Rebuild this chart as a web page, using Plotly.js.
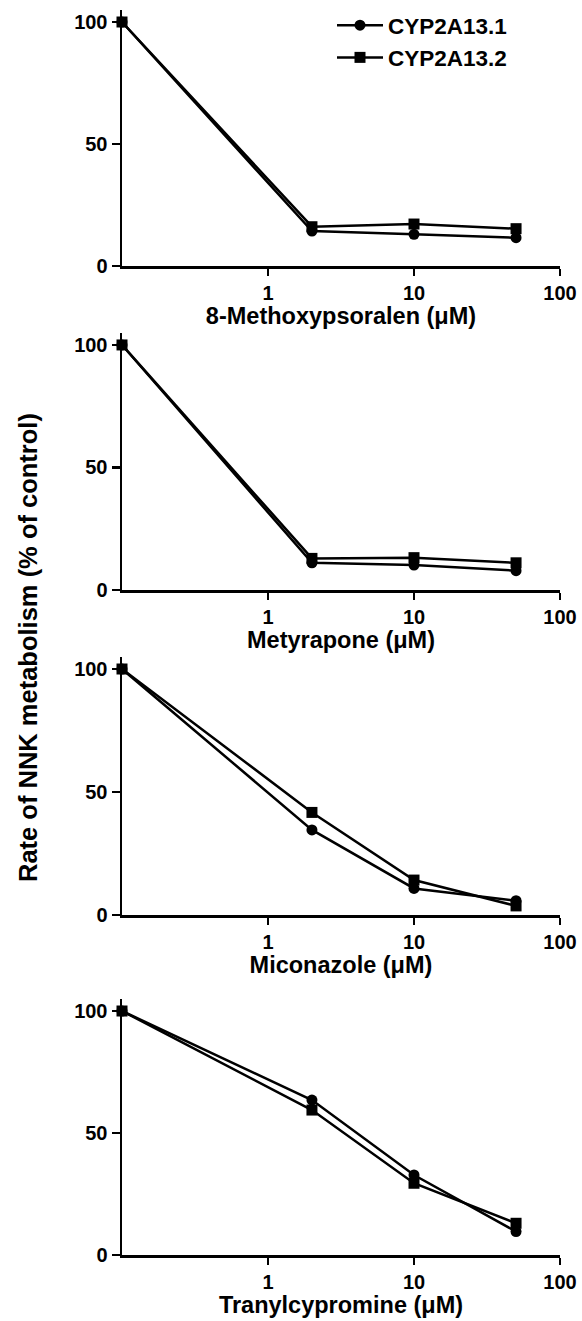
<!DOCTYPE html>
<html><head><meta charset="utf-8">
<script src="https://cdn.plot.ly/plotly-3.0.1.min.js"></script>
<style>html,body{margin:0;padding:0;background:#fff}#chart{width:582px;height:1321px}</style>
</head><body><div id="chart"></div>
<script>
// Data
const concentrations = [0.1, 2, 10, 50];          // µM (control drawn at axis start)
const seriesNames = ['CYP2A13.1', 'CYP2A13.2'];
const inhibitors = ['8-Methoxypsoralen', 'Metyrapone', 'Miconazole', 'Tranylcypromine'];
const methoxypsoralen_13_1 = [100, 14.3, 13.0, 11.6];
const methoxypsoralen_13_2 = [100, 16.1, 17.2, 15.3];
const metyrapone_13_1 = [100, 11.1, 10.2, 7.9];
const metyrapone_13_2 = [100, 12.9, 13.2, 11.1];
const miconazole_13_1 = [100, 34.6, 10.8, 5.8];
const miconazole_13_2 = [100, 41.7, 14.2, 3.7];
const tranylcypromine_13_1 = [100, 63.5, 32.8, 9.6];
const tranylcypromine_13_2 = [100, 59.4, 29.4, 13.0];
const xTickVals = [1, 10, 100];
const xTickText = ['1', '10', '100'];
const yTickVals = [0, 50, 100];
const yTickText = ['0', '50', '100'];
const yTitle = 'Rate of NNK metabolism (% of control)';

const panelData = [
  [methoxypsoralen_13_1, methoxypsoralen_13_2],
  [metyrapone_13_1, metyrapone_13_2],
  [miconazole_13_1, miconazole_13_2],
  [tranylcypromine_13_1, tranylcypromine_13_2]
];

const W = 582, H = 1321;
const FONT = 'Liberation Sans, Arial, Helvetica, sans-serif';
const xDomain = [122 / W, 560 / W];
// [bottom px, top px] of each plotting area
const panelPx = [[266, 9.8], [590, 332.7], [915, 656.7], [1255, 998.8]];
const symbols = ['circle', 'square'];

const traces = [];
const layout = {
  width: W, height: H,
  margin: {l: 0, r: 0, t: 0, b: 0},
  paper_bgcolor: '#fff', plot_bgcolor: '#fff',
  showlegend: true,
  legend: {
    x: 332 / W, y: 1 - 4 / H, xanchor: 'left', yanchor: 'top',
    bgcolor: 'rgba(0,0,0,0)', traceorder: 'normal', itemwidth: 46,
    font: {family: FONT, size: 22.5, color: '#000', weight: 'bold'}
  },
  annotations: [{
    text: yTitle, textangle: -90, showarrow: false,
    xref: 'paper', yref: 'paper', x: 28 / W, y: 1 - 648 / H,
    xanchor: 'center', yanchor: 'middle',
    font: {family: FONT, size: 25.5, color: '#000', weight: 'bold'}
  }]
};

panelData.forEach((pair, p) => {
  const sfx = p === 0 ? '' : String(p + 1);
  pair.forEach((vals, s) => {
    traces.push({
      x: concentrations, y: vals, type: 'scatter', mode: 'lines+markers',
      name: seriesNames[s], legendgroup: seriesNames[s], showlegend: p === 0,
      xaxis: 'x' + sfx, yaxis: 'y' + sfx, cliponaxis: false,
      line: {color: '#000', width: 2.5},
      marker: {symbol: symbols[s], size: 11, color: '#000'}
    });
  });
  const [bot, top] = panelPx[p];
  layout['xaxis' + sfx] = {
    type: 'log', range: [-1, 2], domain: xDomain, anchor: 'y' + sfx,
    tickvals: xTickVals, ticktext: xTickText,
    ticks: 'outside', ticklen: 7, tickwidth: 2.5, tickcolor: '#000',
    showline: true, linewidth: 2.5, linecolor: '#000',
    showgrid: false, zeroline: false,
    tickfont: {family: FONT, size: 20, color: '#000', weight: 'bold'},
    title: {text: inhibitors[p] + ' (\u03BCM)', standoff: 4,
            font: {family: FONT, size: 23.5, color: '#000', weight: 'bold'}}
  };
  layout['yaxis' + sfx] = {
    range: [0, 105], domain: [1 - bot / H, 1 - top / H], anchor: 'x' + sfx,
    tickvals: yTickVals, ticktext: yTickText,
    ticks: 'outside', ticklen: 8, tickwidth: 2.5, tickcolor: '#000',
    showline: true, linewidth: 2.5, linecolor: '#000',
    showgrid: false, zeroline: false,
    tickfont: {family: FONT, size: 20, color: '#000', weight: 'bold'}
  };
});

Plotly.newPlot('chart', traces, layout, {staticPlot: true, displayModeBar: false});
</script></body></html>
